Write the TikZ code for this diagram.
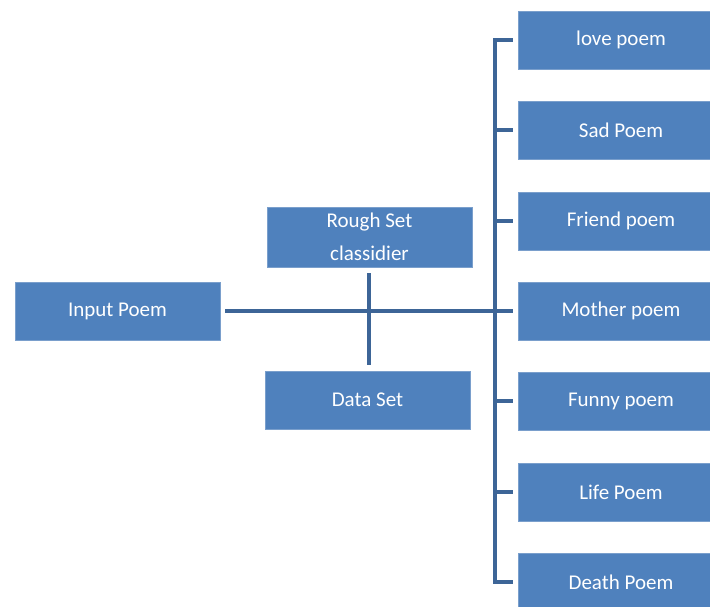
\documentclass[tikz,border=0pt]{standalone}
\usepackage{fontspec}
\setmainfont{Carlito}
\definecolor{boxblue}{HTML}{4F81BD}
\definecolor{boxedge}{HTML}{7A9FCC}
\definecolor{linkblue}{HTML}{3D6597}
\begin{document}
\begin{tikzpicture}[x=1pt,y=-1pt,
  blk/.style={draw=boxedge,line width=0.8pt,fill=boxblue,text=white,
    inner sep=0pt,font=\fontsize{21}{25}\selectfont},
  conn/.style={draw=linkblue,line width=4pt,line cap=butt,line join=miter}]
\useasboundingbox (0,0) rectangle (710,606);
% left and middle boxes
\node[blk,minimum width=205,minimum height=58] (input) at (117.5,311) {Input Poem};
\node[blk,minimum width=205,minimum height=60,align=center,
  font=\fontsize{21}{33}\selectfont] (rough) at (369.5,237) {Rough Set\\classidier};
\node[blk,minimum width=205,minimum height=58] (data) at (367.5,400) {Data Set};
% right boxes
\foreach \n/\t/\y in {love/love poem/40,sad/Sad Poem/130,friend/Friend poem/221,
  mother/Mother poem/311,funny/Funny poem/401,life/Life Poem/492,death/Death Poem/582}{
  \node[blk,minimum width=206,minimum height=58] (\n) at (621,\y) {\t};
}
% connectors
\draw[conn,shorten <=5pt,shorten >=5pt] (input.east) -- (mother.west);
\draw[conn,shorten <=6pt,shorten >=6pt] (rough.south -| 369,0) -- (data.north -| 369,0);
\draw[conn,shorten <=5pt,shorten >=5pt] (love.west) -- ++(-23,0) |- (death.west);
\foreach \n in {sad,friend,funny,life}{
  \draw[conn,shorten <=5pt] (\n.west) -- ++(-23,0);
}
\end{tikzpicture}
\end{document}
